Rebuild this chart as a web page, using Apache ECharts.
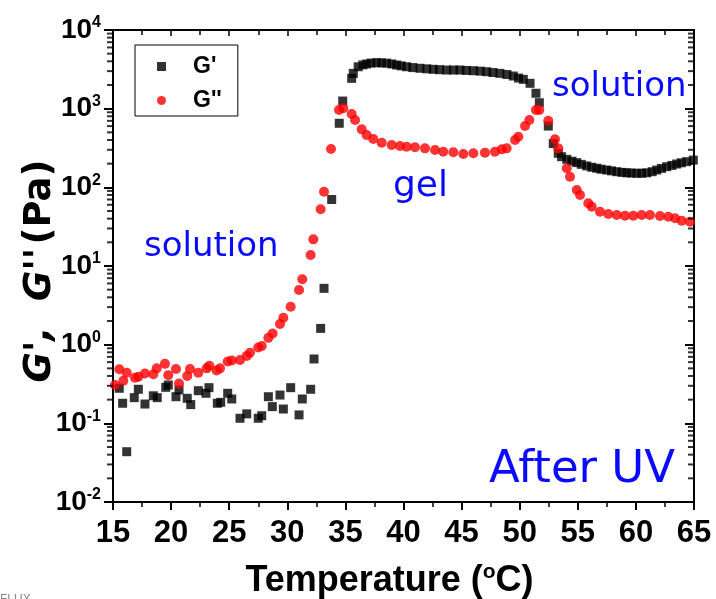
<!DOCTYPE html>
<html>
<head>
<meta charset="utf-8">
<script src="https://cdn.jsdelivr.net/npm/echarts@6/dist/echarts.min.js"></script>
<style>
  html, body { margin: 0; padding: 0; background: #fff; }
  #chart { width: 716px; height: 599px; }
</style>
</head>
<body>
<div id="chart"></div>
<script>
// Storage modulus G' (Pa) against temperature (°C)
const gPrimeTemp = [15.54, 15.83, 16.18, 16.83, 17.18, 17.75, 18.47, 18.81, 19.54, 19.76,
  20.42, 20.68, 21.39, 21.69, 22.34, 23.00, 23.26, 23.98, 24.27, 24.87,
  25.22, 25.93, 26.51, 27.50, 27.80, 28.37, 28.71, 29.37, 29.66, 30.29,
  31.01, 31.29, 32.01, 32.30, 32.87, 33.16, 33.82, 34.47, 34.77, 35.54,
  35.68, 36.1, 36.5, 36.83, 37.2, 37.69, 38.1, 38.55, 39.0, 39.41,
  39.8, 40.27, 40.8, 41.42, 42.0, 42.56, 43.1, 43.72, 44.3, 44.86,
  45.4, 46.01, 46.6, 47.16, 47.7, 48.3, 48.9, 49.45, 49.9, 50.31,
  50.89, 51.40, 51.69, 52.46, 52.89, 53.32, 53.6, 54.05, 54.5, 54.91,
  55.3, 55.77, 56.2, 56.63, 57.0, 57.49, 57.9, 58.35, 58.8, 59.21,
  59.6, 60.07, 60.5, 60.93, 61.4, 61.79, 62.2, 62.65, 63.1, 63.51,
  63.9, 64.37, 64.94];
const gPrimeValue = [0.279, 0.180, 0.0436, 0.212, 0.271, 0.176, 0.224, 0.212, 0.287, 0.307,
  0.218, 0.266, 0.208, 0.173, 0.260, 0.241, 0.284, 0.180, 0.185, 0.241,
  0.204, 0.116, 0.132, 0.116, 0.125, 0.218, 0.163, 0.229, 0.152, 0.284,
  0.128, 0.204, 0.271, 0.658, 1.61, 5.2, 70, 652, 1250, 2430,
  2810, 3410, 3600, 3700, 3800, 3840, 3820, 3790, 3700, 3590,
  3500, 3410, 3330, 3260, 3210, 3165, 3130, 3100, 3100, 3100,
  3060, 3035, 3000, 2950, 2880, 2810, 2720, 2600, 2450, 2360,
  2100, 1570, 1190, 601, 360, 271, 245, 227, 215, 206,
  196, 187, 180, 175, 170, 166, 162, 158, 155, 153,
  152, 151, 151, 153, 158, 166, 174, 183, 190, 198,
  205, 212, 222];

// Loss modulus G'' (Pa) against temperature (°C)
const gDoubleTemp = [15.17, 15.54, 15.89, 16.18, 16.89, 17.18, 17.75, 18.47, 18.76, 19.47,
  19.76, 20.42, 20.68, 21.39, 21.63, 22.34, 23.06, 23.29, 23.92, 24.21,
  24.87, 25.22, 25.93, 26.51, 26.79, 27.50, 27.80, 28.37, 28.74, 29.37,
  29.66, 30.29, 31.01, 31.29, 32.01, 32.24, 32.87, 33.16, 33.76, 34.45,
  34.82, 35.54, 35.83, 36.40, 36.83, 37.40, 38.12, 38.98, 39.70, 40.27,
  40.99, 41.85, 42.71, 43.42, 44.29, 45.15, 46.01, 47.01, 47.87, 48.45,
  48.88, 49.60, 49.88, 50.46, 50.83, 51.40, 51.69, 52.46, 53.04, 53.32,
  54.05, 54.33, 54.91, 55.19, 55.90, 56.20, 56.91, 57.63, 58.35, 59.06,
  59.78, 60.50, 61.21, 62.07, 62.79, 63.37, 63.94, 64.66];
const gDoubleValue = [0.307, 0.487, 0.348, 0.44, 0.38, 0.39, 0.43, 0.42, 0.50, 0.57,
  0.41, 0.49, 0.32, 0.40, 0.49, 0.44, 0.50, 0.54, 0.47, 0.50,
  0.61, 0.63, 0.64, 0.72, 0.79, 0.92, 0.96, 1.22, 1.39, 1.83,
  2.20, 3.04, 4.95, 6.78, 13.8, 21.8, 52.6, 88, 307, 961,
  1010, 855, 718, 546, 462, 411, 369, 345, 335, 328,
  323, 313, 298, 284, 279, 265, 271, 276, 284, 304,
  313, 400, 440, 601, 718, 961, 961, 703, 408, 313,
  175, 136, 92.5, 79.8, 62.6, 56.7, 49.0, 45.8, 44.5, 43.6,
  43.6, 44.5, 44.5, 43.2, 42.3, 40.4, 37.7, 36.6];

// Decade tick labels (exponents) and the 2..9 minor positions of the log axis
const decadeExponents = ['-2', '-1', '0', '1', '2', '3', '4'];
const logMinorTicks = [0.02, 0.03, 0.04, 0.05, 0.06, 0.07, 0.08, 0.09,
  0.2, 0.3, 0.4, 0.5, 0.6, 0.7, 0.8, 0.9,
  2, 3, 4, 5, 6, 7, 8, 9,
  20, 30, 40, 50, 60, 70, 80, 90,
  200, 300, 400, 500, 600, 700, 800, 900,
  2000, 3000, 4000, 5000, 6000, 7000, 8000, 9000];

const seriesNames = ["G'", "G''"];

const FONT = 'Liberation Sans';
const BLUE = '#0a0aff';

function zip(xs, ys) { return xs.map((x, i) => [x, ys[i]]); }

const chart = echarts.init(document.getElementById('chart'), null, { renderer: 'canvas' });

const xCommon = {
  type: 'value', min: 15, max: 65, interval: 5,
  splitLine: { show: false },
  axisLine: { show: true, onZero: false, lineStyle: { color: '#000', width: 2 } }
};
const yCommon = {
  type: 'log', logBase: 10, min: 0.01, max: 10000, splitNumber: 6,
  splitLine: { show: false },
  minorTick: { show: false },
  axisLine: { show: true, onZero: false, lineStyle: { color: '#000', width: 2 } }
};

// Short horizontal tick marks on the log axis at 2..9 of each decade, placed by the axis scale
function minorTickSeries(xEdge) {
  return {
    type: 'scatter',
    xAxisIndex: 0, yAxisIndex: 0,
    symbol: 'rect',
    symbolSize: [6, 2],
    symbolOffset: [-3, 0],
    itemStyle: { color: '#000' },
    emphasis: { disabled: true },
    tooltip: { show: false },
    clip: false,
    z: 5,
    data: logMinorTicks.map(v => [xEdge, v])
  };
}

chart.setOption({
  animation: false,
  backgroundColor: '#fff',
  grid: { left: 113, top: 30, right: 22, bottom: 97, containLabel: false, outerBoundsMode: 'none' },
  legend: {
    data: seriesNames,
    orient: 'vertical',
    left: 135, top: 45,
    padding: [10, 16, 4, 22],
    itemGap: 11,
    itemWidth: 9, itemHeight: 9,
    borderColor: '#000', borderWidth: 1,
    textStyle: { fontFamily: FONT, fontWeight: 'bold', fontSize: 23, color: '#000', lineHeight: 22, padding: [0, 0, 0, 22] }
  },
  xAxis: [
    Object.assign({}, xCommon, {
      position: 'bottom',
      axisTick: { show: true, inside: false, length: 8, lineStyle: { color: '#000', width: 2 } },
      minorTick: { show: true, splitNumber: 2, length: 5, lineStyle: { color: '#000', width: 1.5 } },
      axisLabel: { fontFamily: FONT, fontWeight: 'bold', fontSize: 31, color: '#000', margin: 16 },
      name: '{t|Temperature (}{o|o}{t|C)}',
      nameLocation: 'middle', nameGap: 60,
      nameMoveOverlap: false,
      nameTextStyle: {
        padding: [0, 28, 0, 0],
        rich: {
          t: { fontFamily: FONT, fontWeight: 'bold', fontSize: 36, color: '#000', lineHeight: 38 },
          o: { fontFamily: FONT, fontWeight: 'bold', fontSize: 21, color: '#000', lineHeight: 21, verticalAlign: 'top' }
        }
      }
    }),
    Object.assign({}, xCommon, {
      position: 'top',
      axisTick: { show: true, inside: true, length: 6, lineStyle: { color: '#000', width: 1.5 } },
      minorTick: { show: true, splitNumber: 2, length: 5, lineStyle: { color: '#000', width: 1.5 } },
      axisLabel: { show: false }
    })
  ],
  yAxis: [
    Object.assign({}, yCommon, {
      position: 'left',
      axisTick: { show: true, inside: false, length: 9, lineStyle: { color: '#000', width: 2 } },
      axisLabel: {
        margin: 12,
        formatter: function (v) {
          const e = Math.round(Math.log10(v));
          return '{b|10}{s|' + decadeExponents[e + 2] + '}';
        },
        rich: {
          b: { fontFamily: FONT, fontWeight: 'bold', fontSize: 28, color: '#000', lineHeight: 30 },
          s: { fontFamily: FONT, fontWeight: 'bold', fontSize: 16, color: '#000', lineHeight: 16, verticalAlign: 'top' }
        }
      },
      name: "{i|G',  G''} {n|(Pa)}",
      nameLocation: 'middle', nameGap: 54, nameRotate: 90,
      nameMoveOverlap: false,
      nameTextStyle: {
        padding: [0, 10, 0, 0],
        rich: {
          i: { fontFamily: 'DejaVu Sans', fontWeight: 'bold', fontStyle: 'italic', fontSize: 37, color: '#000' },
          n: { fontFamily: 'DejaVu Sans', fontWeight: 'bold', fontSize: 37, color: '#000' }
        }
      }
    }),
    Object.assign({}, yCommon, {
      position: 'right',
      axisTick: { show: true, inside: true, length: 9, lineStyle: { color: '#000', width: 2 } },
      axisLabel: { show: false }
    })
  ],
  series: [
    minorTickSeries(15),
    minorTickSeries(65),
    {
      name: seriesNames[0],
      type: 'scatter',
      xAxisIndex: 0, yAxisIndex: 0,
      symbol: 'rect', symbolSize: 9,
      itemStyle: { color: '#000' },
      data: zip(gPrimeTemp, gPrimeValue),
      z: 3
    },
    {
      name: seriesNames[1],
      type: 'scatter',
      xAxisIndex: 0, yAxisIndex: 0,
      symbol: 'circle', symbolSize: 10,
      itemStyle: { color: '#ff0000' },
      data: zip(gDoubleTemp, gDoubleValue),
      z: 4
    }
  ],
  graphic: [
    { type: 'text', left: 144, top: 230, style: { text: 'solution', font: '34px "DejaVu Sans"', fill: BLUE } },
    { type: 'text', left: 393, top: 169, style: { text: 'gel', font: '36px "DejaVu Sans"', fill: BLUE } },
    { type: 'text', left: 552, top: 70, style: { text: 'solution', font: '34px "DejaVu Sans"', fill: BLUE } },
    { type: 'text', left: 489, top: 448, style: { text: 'After UV', font: '45px "DejaVu Sans"', fill: BLUE } },
    { type: 'text', left: 0, top: 594, style: { text: 'FLUX', font: '12px "Liberation Sans"', fill: '#888' } }
  ]
});
</script>
</body>
</html>
